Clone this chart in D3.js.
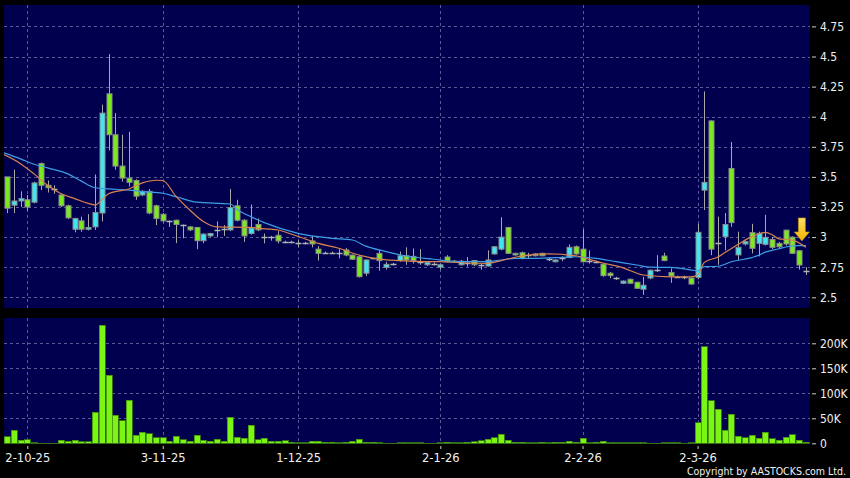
<!DOCTYPE html>
<html>
<head>
<meta charset="utf-8">
<script src="https://cdn.jsdelivr.net/npm/d3@7"></script>
<style>
body { margin: 0; background: #000; }
svg text { font-family: "DejaVu Sans Condensed", "DejaVu Sans", sans-serif; font-stretch: condensed; }
</style>
</head>
<body>
<script>
// daily OHLC, one entry per trading day (index 0 = 29-9-25)
const openP = [3.50,3.265,3.30,3.31,3.29,3.61,3.43,3.40,3.35,3.26,
  3.065,3.135,3.065,3.085,3.20,4.19,3.85,3.59,3.49,3.47,
  3.35,3.38,3.26,3.19,3.13,3.14,3.10,3.085,3.08,2.97,
  3.01,3.06,3.07,3.06,3.26,3.14,3.03,3.105,3.00,3.00,
  3.015,2.962,2.962,2.953,2.953,2.968,2.90,2.87,2.87,2.865,
  2.893,2.851,2.837,2.70,2.824,2.865,2.749,2.774,2.805,2.845,
  2.84,2.795,2.77,2.78,2.75,2.835,2.80,2.77,2.785,2.805,
  2.77,2.76,2.86,2.90,3.08,2.865,2.87,2.85,2.86,2.865,
  2.815,2.795,2.825,2.83,2.92,2.90,2.80,2.795,2.775,2.70,
  2.66,2.617,2.65,2.625,2.567,2.66,2.727,2.843,2.705,2.67,
  2.665,2.66,2.665,3.39,3.965,2.953,3.003,3.57,2.852,2.943,
  3.037,2.948,2.94,2.98,2.948,3.058,3.00,2.887,2.72]
const highP = [3.50,3.56,3.38,3.35,3.46,3.62,3.47,3.43,3.36,3.27,
  3.16,3.17,3.19,3.52,4.10,4.52,4.03,3.85,3.875,3.48,
  3.39,3.40,3.27,3.20,3.14,3.145,3.105,3.09,3.085,3.03,
  3.035,3.13,3.10,3.40,3.31,3.15,3.27,3.155,3.03,3.01,
  3.05,2.97,2.97,2.975,2.96,3.01,2.925,2.88,2.88,2.905,
  2.91,2.855,2.85,2.815,2.83,2.893,2.795,2.785,2.88,2.915,
  2.905,2.90,2.80,2.79,2.78,2.85,2.81,2.81,2.835,2.81,
  2.78,2.89,2.925,3.165,3.085,2.87,2.88,2.87,2.865,2.87,
  2.83,2.815,2.84,2.94,2.93,3.065,2.89,2.805,2.78,2.71,
  2.67,2.64,2.655,2.63,2.67,2.73,2.85,2.87,2.74,2.68,
  2.68,2.665,3.11,4.21,3.97,3.17,3.20,3.79,3.045,2.97,
  3.11,3.045,3.185,3.00,2.96,3.06,3.005,2.89,2.75]
const lowP = [3.20,3.20,3.25,3.22,3.28,3.39,3.37,3.36,3.25,3.15,
  3.04,3.045,3.055,3.06,3.13,3.72,3.56,3.46,3.42,3.31,
  3.34,3.19,3.10,3.12,3.085,2.95,2.99,3.05,2.90,2.95,
  3.00,3.00,3.01,3.05,3.13,2.96,3.02,3.05,2.948,2.97,
  2.948,2.95,2.95,2.92,2.94,2.915,2.805,2.86,2.86,2.824,
  2.84,2.81,2.665,2.677,2.815,2.72,2.73,2.765,2.795,2.77,
  2.78,2.77,2.76,2.765,2.73,2.79,2.79,2.765,2.755,2.76,
  2.73,2.755,2.855,2.89,2.86,2.845,2.815,2.82,2.84,2.84,
  2.80,2.79,2.80,2.825,2.855,2.79,2.78,2.785,2.67,2.66,
  2.645,2.61,2.61,2.57,2.52,2.65,2.71,2.80,2.62,2.66,
  2.65,2.605,2.65,3.225,2.85,2.77,2.89,3.085,2.81,2.93,
  2.865,2.84,2.93,2.90,2.90,2.93,2.86,2.73,2.685]
const closeP = [3.24,3.30,3.32,3.25,3.45,3.43,3.41,3.40,3.26,3.16,
  3.155,3.065,3.08,3.205,4.03,3.85,3.59,3.49,3.455,3.34,
  3.38,3.20,3.155,3.135,3.13,3.105,3.10,3.06,2.97,3.025,
  3.03,3.06,3.07,3.245,3.14,3.01,3.075,3.06,3.00,3.00,
  2.968,2.962,2.962,2.953,2.953,2.943,2.865,2.87,2.87,2.865,
  2.851,2.816,2.671,2.81,2.824,2.804,2.774,2.774,2.845,2.81,
  2.805,2.795,2.79,2.78,2.77,2.795,2.80,2.80,2.785,2.77,
  2.77,2.81,2.92,3.00,2.865,2.852,2.825,2.85,2.845,2.845,
  2.815,2.81,2.825,2.915,2.86,2.795,2.80,2.795,2.68,2.68,
  2.66,2.635,2.617,2.575,2.60,2.725,2.727,2.805,2.677,2.67,
  2.665,2.61,3.04,3.455,2.90,2.953,3.105,3.12,2.915,2.962,
  2.907,3.031,2.998,2.915,2.92,2.943,2.865,2.768,2.72]
// volume in thousands of shares
const volK = [13,26.6,6.6,7,1.5,0.6,0.5,0.5,6.6,4.6,
  6,3.3,2.7,62.6,236.6,136,56.6,45,86.6,16.6,
  22.6,19.3,11.3,11.3,4.6,14.6,7,4,16.6,6,
  4,7.9,4,52.6,12.6,10,36.6,7,10.6,4.6,
  4.6,5.3,2,1.3,1.5,4,4.6,2,2,1.5,
  2,4,7.9,2,2,1,0.5,0.5,1.5,1.5,
  1,1,0.5,0.5,1.5,2,1.5,1.5,2,3,
  5.3,7.9,11.3,18.6,6.6,2,2,1.5,1.5,2,
  1.5,2,2,4.6,2.5,10.6,1,2.5,4.6,1.5,
  1,1,1,1.5,1,0.5,0.5,1,1,1,
  0.5,1,41.3,193,85,68,26.6,58.6,14.6,11.3,
  16.6,10.6,22.6,9.3,6.6,12,17.3,6,2]

const dateIdx = [3, 23, 43, 64, 85, 102]
const dateLabels = ['2-10-25', '3-11-25', '1-12-25', '2-1-26', '2-2-26', '2-3-26']
const priceTicks = [2.5, 2.75, 3, 3.25, 3.5, 3.75, 4, 4.25, 4.5, 4.75]
const volTicks = [0, 50, 100, 150, 200]

// moving averages (orange = short, blue = long)
const maShortIdx = [-0.44,2,4,6,8,10,12,13,15,18,20,22,23,25,27,29,31,36,37,40,43,46,49,52,54,58,62,64,67,71,73,76,80,84,86,88,91,94,98,101,102,103,105,106,108,109,111,112,113,114,116,118]
const maShortVal = [3.685,3.61,3.525,3.43,3.36,3.32,3.28,3.267,3.36,3.40,3.45,3.472,3.47,3.336,3.225,3.13,3.085,3.08,3.073,3.059,3.005,2.948,2.907,2.851,2.826,2.804,2.796,2.796,2.787,2.782,2.805,2.843,2.86,2.845,2.815,2.785,2.745,2.685,2.67,2.67,2.685,2.79,2.835,2.87,2.94,2.975,3.026,3.04,3.02,2.985,2.975,2.915]
const maLongIdx = [-0.44,2,4,6,9,11,13,15,18,20,23,25,28,33,34,36,38,43,48,51,53,56,59,63,67,71,73,75,78,82,84,87,90,93,95,98,101,102,103,105,107,110,111,112,114,115,117,118]
const maLongVal = [3.70,3.65,3.605,3.575,3.525,3.465,3.41,3.40,3.39,3.378,3.364,3.335,3.29,3.275,3.23,3.17,3.12,3.031,2.99,2.976,2.925,2.88,2.843,2.816,2.796,2.796,2.81,2.824,2.824,2.832,2.837,2.824,2.796,2.768,2.75,2.748,2.728,2.72,2.754,2.758,2.795,2.83,2.848,2.875,2.903,2.918,2.93,2.93]

const markerIdx = 117.4
const markerPrice = 2.968

const W = 850, H = 478
const left = 4, right = 810
const mainTop = 5, mainBottom = 308
const volTop = 318, volBottom = 444
const navy = '#00004e'
const gridColor = '#5a5a96'

const svg = d3.select('body')
    .append('svg')
    .attr('width', W)
    .attr('height', H)
    .style('display', 'block')
    .style('background', '#000')

const x = d3.scaleLinear().domain([-0.44, 118.6]).range([left, right])
const yP = d3.scaleLinear().domain([2.5, 4.75]).range([297.3, 26.4])
const yV = d3.scaleLinear().domain([0, 200]).range([443.3, 343.3])

svg.append('clipPath').attr('id', 'clipMain')
    .append('rect').attr('x', left).attr('y', mainTop)
    .attr('width', right - left).attr('height', mainBottom - mainTop)

svg.append('rect').attr('x', left).attr('y', mainTop)
    .attr('width', right - left).attr('height', mainBottom - mainTop).attr('fill', navy)
svg.append('rect').attr('x', left).attr('y', volTop)
    .attr('width', right - left).attr('height', volBottom - volTop).attr('fill', navy)

// grid
const grid = svg.append('g')
    .attr('stroke', gridColor)
    .attr('stroke-dasharray', '3,3')
    .attr('shape-rendering', 'crispEdges')

grid.selectAll('.hp')
    .data(priceTicks)
    .join('line')
    .attr('x1', left).attr('x2', right)
    .attr('y1', d => Math.round(yP(d)) + 0.5)
    .attr('y2', d => Math.round(yP(d)) + 0.5)

grid.selectAll('.hv')
    .data(volTicks.slice(1))
    .join('line')
    .attr('x1', left).attr('x2', right)
    .attr('y1', d => Math.round(yV(d)) + 0.5)
    .attr('y2', d => Math.round(yV(d)) + 0.5)

dateIdx.forEach(i => {
    const gx = Math.round(x(i)) + 0.5
    grid.append('line').attr('x1', gx).attr('x2', gx).attr('y1', mainTop).attr('y2', mainBottom)
    grid.append('line').attr('x1', gx).attr('x2', gx).attr('y1', volTop).attr('y2', volBottom)
})

// right axes
const axisP = d3.axisRight(yP).tickValues(priceTicks).tickSize(4).tickPadding(4)
    .tickFormat(d => d3.format('~g')(d))
const gP = svg.append('g').attr('transform', `translate(${right + 2},0)`).call(axisP)

const axisV = d3.axisRight(yV).tickValues(volTicks).tickSize(4).tickPadding(4)
    .tickFormat(d => d === 0 ? '0' : d + 'K')
const gV = svg.append('g').attr('transform', `translate(${right + 2},0)`).call(axisV)

;[gP, gV].forEach(g => {
    g.select('.domain').remove()
    g.selectAll('line').attr('stroke', '#cfcfcf')
    g.selectAll('text').attr('fill', '#f0f0f0').attr('font-size', 12)
        .style('font-family', '"DejaVu Sans Condensed", "DejaVu Sans", sans-serif')
})

// date axis
const axisD = d3.axisBottom(x).tickValues(dateIdx).tickSize(3).tickPadding(5)
    .tickFormat((d, k) => dateLabels[k])
const gD = svg.append('g').attr('transform', `translate(0,${volBottom + 2})`).call(axisD)
gD.select('.domain').remove()
gD.selectAll('line').attr('stroke', '#cfcfcf')
gD.selectAll('text').attr('fill', '#f0f0f0').attr('font-size', 11.5)
    .style('font-family', '"DejaVu Sans", sans-serif')
    .style('font-stretch', 'normal')

// volume bars
const days = d3.range(openP.length)

svg.append('g')
    .attr('shape-rendering', 'crispEdges')
    .selectAll('rect')
    .data(days)
    .join('rect')
    .attr('x', i => Math.round(x(i)) - 3)
    .attr('width', 6)
    .attr('y', i => yV(volK[i]))
    .attr('height', i => yV(0) - yV(volK[i]))
    .attr('fill', '#7cf514')
    .attr('stroke', '#3e8a0e')
    .attr('stroke-width', 0.8)

// candles
const candles = svg.append('g').attr('clip-path', 'url(#clipMain)')

candles.selectAll('.wick')
    .data(days)
    .join('line')
    .attr('x1', i => Math.round(x(i)) + 0.5)
    .attr('x2', i => Math.round(x(i)) + 0.5)
    .attr('y1', i => yP(highP[i]))
    .attr('y2', i => yP(lowP[i]))
    .attr('stroke', '#a8a8a8')
    .attr('stroke-width', 1)

candles.selectAll('.body')
    .data(days.filter(i => openP[i] !== closeP[i]))
    .join('rect')
    .attr('x', i => Math.round(x(i)) - 2)
    .attr('width', 5)
    .attr('y', i => yP(Math.max(openP[i], closeP[i])))
    .attr('height', i => Math.max(1, Math.abs(yP(openP[i]) - yP(closeP[i]))))
    .attr('fill', i => closeP[i] > openP[i] ? '#3ee6f2' : '#7ce81e')
    .attr('stroke', '#8c8c8c')
    .attr('stroke-width', 1)

candles.selectAll('.doji')
    .data(days.filter(i => openP[i] === closeP[i]))
    .join('line')
    .attr('x1', i => Math.round(x(i)) - 2.5)
    .attr('x2', i => Math.round(x(i)) + 3.5)
    .attr('y1', i => Math.round(yP(closeP[i])) + 0.5)
    .attr('y2', i => Math.round(yP(closeP[i])) + 0.5)
    .attr('stroke', '#b4b4b4')
    .attr('stroke-width', 1.5)

// moving averages
const maLine = d3.line().x(d => x(d[0])).y(d => yP(d[1])).curve(d3.curveMonotoneX)

candles.append('path')
    .datum(d3.zip(maLongIdx, maLongVal))
    .attr('d', maLine)
    .attr('fill', 'none')
    .attr('stroke', '#3c9ee6')
    .attr('stroke-width', 1.2)

candles.append('path')
    .datum(d3.zip(maShortIdx, maShortVal))
    .attr('d', maLine)
    .attr('fill', 'none')
    .attr('stroke', '#d9824f')
    .attr('stroke-width', 1.2)

// last-price marker arrow
const defs = svg.append('defs')
const grad = defs.append('linearGradient').attr('id', 'arrowFill')
    .attr('x1', 0).attr('y1', 0).attr('x2', 0).attr('y2', 1)
grad.append('stop').attr('offset', '0%').attr('stop-color', '#ffe066')
grad.append('stop').attr('offset', '100%').attr('stop-color', '#f0b400')

const ax = x(markerIdx), ay = yP(markerPrice)
svg.append('path')
    .attr('d', `M${ax - 3.5},${ay - 23} L${ax + 3.5},${ay - 23} L${ax + 3.5},${ay - 9} L${ax + 7.5},${ay - 9} L${ax},${ay} L${ax - 7.5},${ay - 9} L${ax - 3.5},${ay - 9} Z`)
    .attr('fill', 'url(#arrowFill)')
    .attr('stroke', '#c89200')
    .attr('stroke-width', 0.6)

svg.append('text')
    .attr('x', 846)
    .attr('y', 475)
    .attr('text-anchor', 'end')
    .attr('fill', '#f0f0f0')
    .attr('font-size', 10.5)
    .attr('textLength', 159)
    .attr('lengthAdjust', 'spacingAndGlyphs')
    .text('Copyright by AASTOCKS.com Ltd.')
</script>
</body>
</html>
